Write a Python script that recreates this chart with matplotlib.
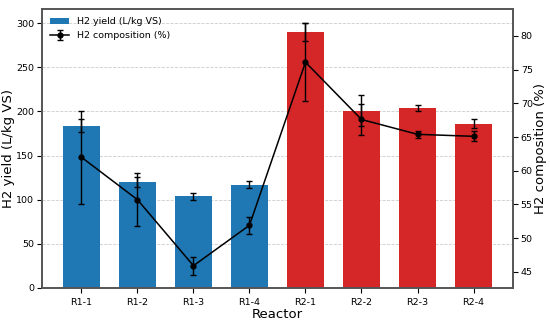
import matplotlib.pyplot as plt
import numpy as np

reactors = ['R1-1', 'R1-2', 'R1-3', 'R1-4', 'R2-1', 'R2-2', 'R2-3', 'R2-4']
h2_yield = [184, 120, 104, 117, 290, 201, 204, 186]
h2_yield_err = [7, 6, 4, 4, 10, 17, 3, 5]
h2_comp = [62.0, 55.7, 45.9, 51.9, 76.1, 67.6, 65.4, 65.1]
h2_comp_err = [6.9, 3.9, 1.35, 1.3, 5.8, 2.3, 0.55, 0.75]
bar_colors = ['#1f77b4'] * 4 + ['#d62728'] * 4

x = np.arange(len(reactors))

fig = plt.figure(figsize=(5.5, 3.21), dpi=100)
ax1 = fig.add_axes([0.076, 0.103, 0.857, 0.869])

bars = ax1.bar(x, h2_yield, width=0.65, color=bar_colors, yerr=h2_yield_err,
               capsize=2, error_kw=dict(elinewidth=1, capthick=1, ecolor='black'),
               label='H2 yield (L/kg VS)')
ax1.set_ylim(0, 316)
ax1.set_xticks(x)
ax1.set_xticklabels(reactors, fontsize=6.8)
ax1.tick_params(axis='y', labelsize=6.8, pad=2)
ax1.set_xlabel('Reactor', fontsize=9.5, labelpad=1)
ax1.set_ylabel('H2 yield (L/kg VS)', fontsize=9.5, labelpad=1)
ax1.grid(axis='y', linestyle='--', color='#cccccc', linewidth=0.6)
ax1.set_axisbelow(True)

ax2 = ax1.twinx()
line = ax2.errorbar(x, h2_comp, yerr=h2_comp_err, color='black', marker='o',
                    markersize=3.5, linewidth=1.1, elinewidth=1, capsize=2,
                    label='H2 composition (%)')
ax2.set_ylim(42.6, 84)
ax2.tick_params(axis='y', labelsize=6.8, pad=2)
ax2.set_ylabel('H2 composition (%)', fontsize=9.5, labelpad=1)

for ax in (ax1, ax2):
    for s in ax.spines.values():
        s.set_color('#555555')
        s.set_linewidth(1.2)

ax2.legend([bars, line], ['H2 yield (L/kg VS)', 'H2 composition (%)'],
           loc='upper left', frameon=False, fontsize=6.8)

fig.savefig('out.png', dpi=100)
